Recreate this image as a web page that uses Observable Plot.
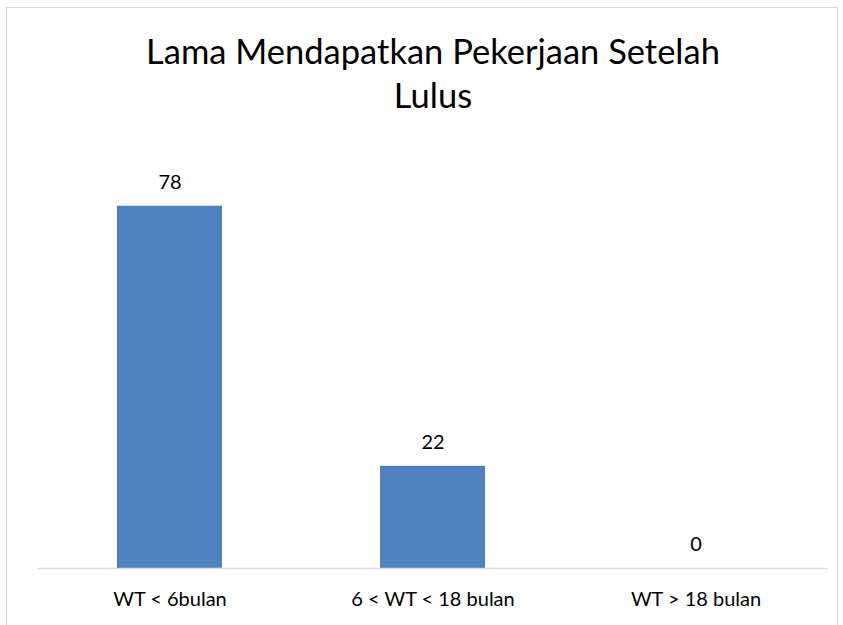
<!DOCTYPE html>
<html>
<head>
<meta charset="utf-8">
<script src="https://cdn.jsdelivr.net/npm/d3@7"></script>
<script src="https://cdn.jsdelivr.net/npm/@observablehq/plot@0.6"></script>
<style>
  html, body { margin: 0; padding: 0; background: #fff; }
  body { width: 843px; height: 625px; overflow: hidden; position: relative; font-family: Lato, "Open Sans", sans-serif; }
  #frame { position: absolute; left: 6px; top: 7px; width: 832px; height: 640px; border: 1px solid #d9d9d9; box-sizing: border-box; }
  #title { position: absolute; left: 11px; top: 0; width: 830px; text-align: center; font-size: 34.5px; line-height: 44px; padding-top: 21px; color: #000; }
  #plot { position: absolute; left: 0; top: 113px; }
</style>
</head>
<body>
<div id="frame">
  <div id="title">Lama Mendapatkan Pekerjaan Setelah<br>Lulus</div>
  <div id="plot"></div>
</div>
<script>
const categories = ["WT < 6bulan", "6 < WT < 18 bulan", "WT > 18 bulan"];
const values = [78, 22, 0];

const data = categories.map((c, i) => ({category: c, value: values[i]}));

const chart = Plot.plot({
  width: 830,
  height: 505,
  marginLeft: 31,
  marginRight: 9,
  marginTop: 29,
  marginBottom: 58,
  style: {fontFamily: "Lato, 'Open Sans', sans-serif", fontSize: "20px", color: "#000", background: "transparent"},
  x: {domain: categories, paddingInner: 0.6, paddingOuter: 0.3, label: null, tickSize: 0, tickPadding: 23},
  y: {domain: [0, 90], axis: null},
  marks: [
    Plot.barY(data, {x: "category", y: "value", fill: "#4f81bd"}),
    Plot.ruleY([0], {stroke: "#d9d9d9", strokeWidth: 1.5}),
    Plot.text(data, {x: "category", y: "value", text: d => String(d.value), dy: -24, fontSize: 20, fill: "#000"})
  ]
});
chart.querySelectorAll("g[aria-label='x-axis tick label'] text").forEach(t => t.setAttribute("fill", "#000"));
document.getElementById("plot").appendChild(chart);
</script>
</body>
</html>
